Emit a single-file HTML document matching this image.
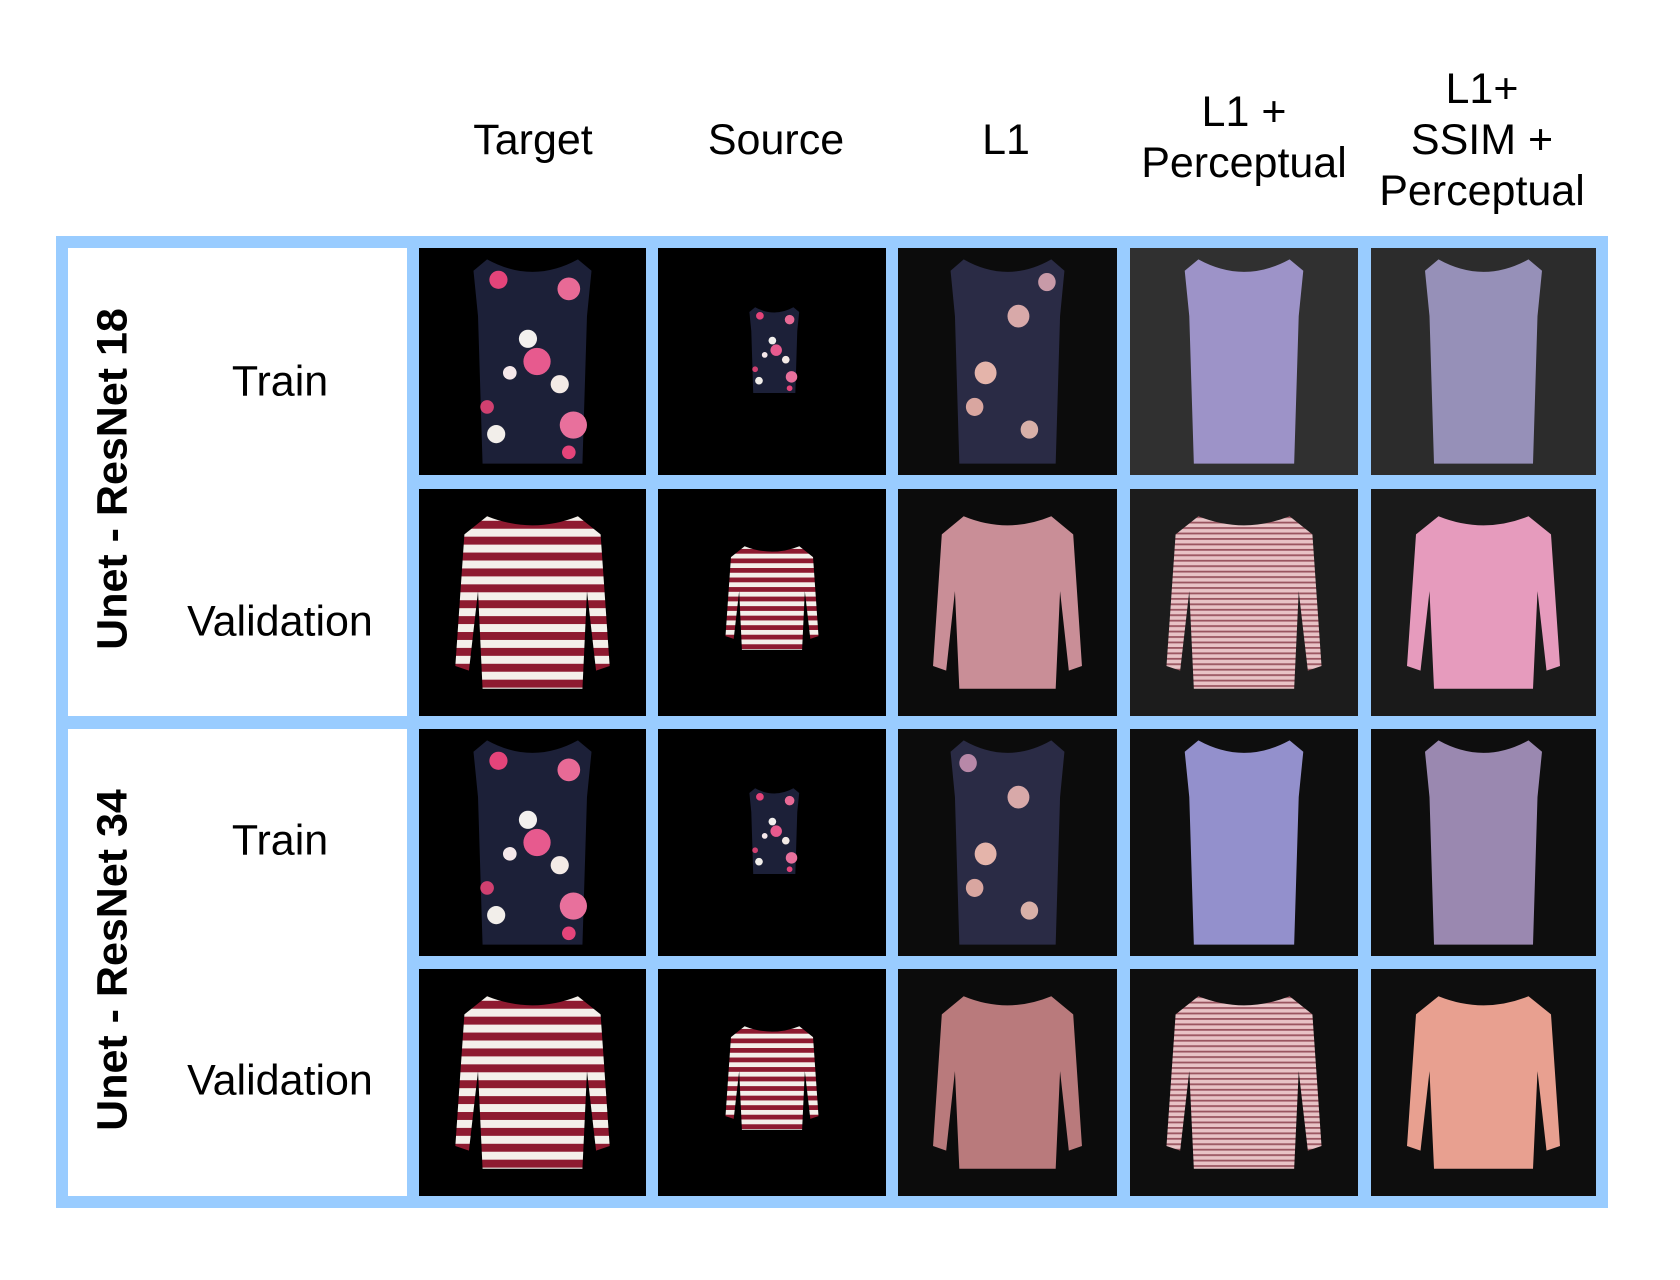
<!DOCTYPE html>
<html><head><meta charset="utf-8">
<style>
body{margin:0;width:1680px;height:1280px;background:#fff;position:relative;overflow:hidden;font-family:"Liberation Sans",Arial,sans-serif;}
.h{position:absolute;text-align:center;font-size:43px;line-height:51px;color:#000;width:280px;transform:translateX(-50%);}
.frame{position:absolute;left:56px;top:236px;width:1552px;height:972px;background:#99ccff;}
.lab{position:absolute;background:#fff;}
.rl{position:absolute;font-size:43px;width:260px;text-align:center;transform:translate(-50%,-50%);}
.vl{position:absolute;font-size:43px;font-weight:bold;white-space:nowrap;transform:translate(-50%,-50%) rotate(-90deg);}
.c{position:absolute;}
.c svg{display:block;width:100%;height:100%;}
</style></head><body>
<svg width="0" height="0" style="position:absolute">
<defs>
<pattern id="st" width="10" height="7" patternUnits="userSpaceOnUse"><rect width="10" height="7" fill="#f4efea"/><rect width="10" height="3.5" fill="#8e1a30"/></pattern>
<pattern id="st2" width="10" height="2.4" patternUnits="userSpaceOnUse"><rect width="10" height="2.4" fill="#e8c3c6"/><rect width="10" height="0.8" fill="#9a5560"/></pattern>
<g id="fl">
<path d="M30 5 Q50 16 70 5 L76 10 L74 30 L72 95 L28 95 L26 30 L24 10 Z" fill="#1c2038"/>
<circle cx="35" cy="14" r="4" fill="#e4447a"/><circle cx="66" cy="18" r="5" fill="#e86a96"/><circle cx="48" cy="40" r="4" fill="#f2f0ee"/><circle cx="52" cy="50" r="6" fill="#e75a8e"/><circle cx="40" cy="55" r="3" fill="#f5e8ea"/><circle cx="62" cy="60" r="4" fill="#f3eae6"/><circle cx="68" cy="78" r="6" fill="#e8709c"/><circle cx="34" cy="82" r="4" fill="#f2eeea"/><circle cx="66" cy="90" r="3" fill="#e4447a"/><circle cx="30" cy="70" r="3" fill="#d04070"/>
</g>
<path id="sl" d="M30 5 Q50 16 70 5 L76 10 L74 30 L72 95 L28 95 L26 30 L24 10 Z"/>
<path id="ls" d="M30 12 Q50 20 70 12 L80 20 L84 78 L78 80 L74 45 L72 88 L28 88 L26 45 L22 80 L16 78 L20 20 Z"/>
</defs></svg>

<div class="h" style="left:533px;top:115px">Target</div>
<div class="h" style="left:776px;top:115px">Source</div>
<div class="h" style="left:1006px;top:115px">L1</div>
<div class="h" style="left:1244px;top:87px">L1 +<br>Perceptual</div>
<div class="h" style="left:1482px;top:64px">L1+<br>SSIM +<br>Perceptual</div>

<div class="frame"></div>
<div class="lab" style="left:68px;top:248px;width:339px;height:468px"></div>
<div class="lab" style="left:68px;top:729px;width:339px;height:467px"></div>
<div class="vl" style="left:113px;top:479px">Unet - ResNet 18</div>
<div class="vl" style="left:113px;top:960px">Unet - ResNet 34</div>
<div class="rl" style="left:280px;top:382px">Train</div>
<div class="rl" style="left:280px;top:622px">Validation</div>
<div class="rl" style="left:280px;top:841px">Train</div>
<div class="rl" style="left:280px;top:1081px">Validation</div>

<!-- Row 1 -->
<div class="c" style="left:419px;top:248px;width:227px;height:227px"><svg viewBox="0 0 100 100" preserveAspectRatio="none"><rect width="100" height="100" fill="#000"/><use href="#fl"/></svg></div>
<div class="c" style="left:658px;top:248px;width:228px;height:227px"><svg viewBox="0 0 100 100" preserveAspectRatio="none"><rect width="100" height="100" fill="#000"/><g transform="translate(30,24) scale(0.42)"><use href="#fl"/></g></svg></div>
<div class="c" style="left:898px;top:248px;width:219px;height:227px"><svg viewBox="0 0 100 100" preserveAspectRatio="none"><rect width="100" height="100" fill="#0c0c0c"/><use href="#sl" fill="#2a2b45"/><circle cx="55" cy="30" r="5" fill="#d8a9a9"/><circle cx="40" cy="55" r="5" fill="#e4b4aa"/><circle cx="35" cy="70" r="4" fill="#d9a6a0"/><circle cx="60" cy="80" r="4" fill="#d8b0a8"/><circle cx="68" cy="15" r="4" fill="#c89aa8"/></svg></div>
<div class="c" style="left:1130px;top:248px;width:228px;height:227px"><svg viewBox="0 0 100 100" preserveAspectRatio="none"><rect width="100" height="100" fill="#303030"/><use href="#sl" fill="#9d93c8"/></svg></div>
<div class="c" style="left:1371px;top:248px;width:225px;height:227px"><svg viewBox="0 0 100 100" preserveAspectRatio="none"><rect width="100" height="100" fill="#2c2c2c"/><use href="#sl" fill="#9690b8"/></svg></div>

<!-- Row 2 -->
<div class="c" style="left:419px;top:489px;width:227px;height:227px"><svg viewBox="0 0 100 100" preserveAspectRatio="none"><rect width="100" height="100" fill="#000"/><use href="#ls" fill="url(#st)"/></svg></div>
<div class="c" style="left:658px;top:489px;width:228px;height:227px"><svg viewBox="0 0 100 100" preserveAspectRatio="none"><rect width="100" height="100" fill="#000"/><g transform="translate(20,18) scale(0.6)"><use href="#ls" fill="url(#st)"/></g></svg></div>
<div class="c" style="left:898px;top:489px;width:219px;height:227px"><svg viewBox="0 0 100 100" preserveAspectRatio="none"><rect width="100" height="100" fill="#0c0c0c"/><use href="#ls" fill="#c98e97"/></svg></div>
<div class="c" style="left:1130px;top:489px;width:228px;height:227px"><svg viewBox="0 0 100 100" preserveAspectRatio="none"><rect width="100" height="100" fill="#1c1c1c"/><use href="#ls" fill="url(#st2)"/></svg></div>
<div class="c" style="left:1371px;top:489px;width:225px;height:227px"><svg viewBox="0 0 100 100" preserveAspectRatio="none"><rect width="100" height="100" fill="#1a1a1a"/><use href="#ls" fill="#e69bbd"/></svg></div>

<!-- Row 3 -->
<div class="c" style="left:419px;top:729px;width:227px;height:227px"><svg viewBox="0 0 100 100" preserveAspectRatio="none"><rect width="100" height="100" fill="#000"/><use href="#fl"/></svg></div>
<div class="c" style="left:658px;top:729px;width:228px;height:227px"><svg viewBox="0 0 100 100" preserveAspectRatio="none"><rect width="100" height="100" fill="#000"/><g transform="translate(30,24) scale(0.42)"><use href="#fl"/></g></svg></div>
<div class="c" style="left:898px;top:729px;width:219px;height:227px"><svg viewBox="0 0 100 100" preserveAspectRatio="none"><rect width="100" height="100" fill="#0c0c0c"/><use href="#sl" fill="#2a2b45"/><circle cx="55" cy="30" r="5" fill="#d8a9a9"/><circle cx="40" cy="55" r="5" fill="#e4b4aa"/><circle cx="35" cy="70" r="4" fill="#d9a6a0"/><circle cx="60" cy="80" r="4" fill="#d8b0a8"/><circle cx="32" cy="15" r="4" fill="#b888a8"/></svg></div>
<div class="c" style="left:1130px;top:729px;width:228px;height:227px"><svg viewBox="0 0 100 100" preserveAspectRatio="none"><rect width="100" height="100" fill="#0e0e0e"/><use href="#sl" fill="#9390cc"/></svg></div>
<div class="c" style="left:1371px;top:729px;width:225px;height:227px"><svg viewBox="0 0 100 100" preserveAspectRatio="none"><rect width="100" height="100" fill="#0e0e0e"/><use href="#sl" fill="#9a88b0"/></svg></div>

<!-- Row 4 -->
<div class="c" style="left:419px;top:969px;width:227px;height:227px"><svg viewBox="0 0 100 100" preserveAspectRatio="none"><rect width="100" height="100" fill="#000"/><use href="#ls" fill="url(#st)"/></svg></div>
<div class="c" style="left:658px;top:969px;width:228px;height:227px"><svg viewBox="0 0 100 100" preserveAspectRatio="none"><rect width="100" height="100" fill="#000"/><g transform="translate(20,18) scale(0.6)"><use href="#ls" fill="url(#st)"/></g></svg></div>
<div class="c" style="left:898px;top:969px;width:219px;height:227px"><svg viewBox="0 0 100 100" preserveAspectRatio="none"><rect width="100" height="100" fill="#0c0c0c"/><use href="#ls" fill="#b97a7c"/></svg></div>
<div class="c" style="left:1130px;top:969px;width:228px;height:227px"><svg viewBox="0 0 100 100" preserveAspectRatio="none"><rect width="100" height="100" fill="#0e0e0e"/><use href="#ls" fill="url(#st2)"/></svg></div>
<div class="c" style="left:1371px;top:969px;width:225px;height:227px"><svg viewBox="0 0 100 100" preserveAspectRatio="none"><rect width="100" height="100" fill="#0e0e0e"/><use href="#ls" fill="#e8a090"/></svg></div>
</body></html>
